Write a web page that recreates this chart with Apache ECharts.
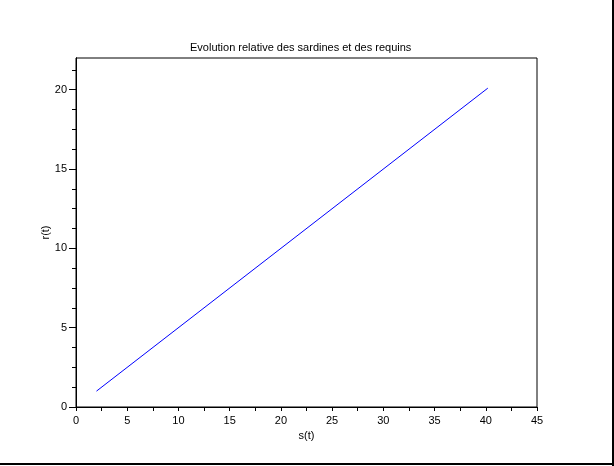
<!DOCTYPE html>
<html>
<head>
<meta charset="utf-8">
<script src="https://cdn.jsdelivr.net/npm/echarts@6/dist/echarts.min.js"></script>
<style>html,body{margin:0;padding:0;background:#fff}#c{width:614px;height:466px}</style>
</head>
<body>
<div id="c"></div>
<script>
const titleText = 'Evolution relative des sardines et des requins';
const xName = 's(t)';
const yName = 'r(t)';
const sValues = [2.0, 40.2];
const rValues = [1.0, 20.1];
const yMajorTicks = [0, 5, 10, 15, 20];
const yMinorTicks = [1.25, 2.5, 3.75, 6.25, 7.5, 8.75, 11.25, 12.5, 13.75, 16.25, 17.5, 18.75, 21.25];

const FONT = 'Liberation Sans';
const chart = echarts.init(document.getElementById('c'), null, {renderer: 'canvas'});
chart.setOption({
  animation: false,
  backgroundColor: '#fff',
  title: {
    text: titleText, left: 185, top: 37,
    textStyle: {fontFamily: FONT, fontSize: 11, fontWeight: 'normal', color: '#000'}
  },
  grid: {left: 76, right: 77, top: 58, bottom: 59, show: true, borderColor: '#000', borderWidth: 1, containLabel: false},
  xAxis: {
    type: 'value', min: 0, max: 45, interval: 5,
    name: xName, nameLocation: 'middle', nameGap: 23, nameMoveOverlap: false,
    nameTextStyle: {fontFamily: FONT, fontSize: 11, color: '#000'},
    axisLine: {show: true, onZero: false, lineStyle: {color: '#000', width: 1}},
    axisTick: {show: true, length: 4, lineStyle: {color: '#000'}},
    minorTick: {show: true, splitNumber: 2, length: 4, lineStyle: {color: '#000'}},
    axisLabel: {fontFamily: FONT, fontSize: 11, color: '#000', margin: 8},
    splitLine: {show: false}
  },
  yAxis: [{
    type: 'value', min: 0, max: 22, position: 'left',
    name: yName, nameLocation: 'middle', nameGap: 25, nameMoveOverlap: false,
    nameTextStyle: {fontFamily: FONT, fontSize: 11, color: '#000'},
    axisLine: {show: true, onZero: false, lineStyle: {color: '#000', width: 1}},
    axisTick: {show: true, length: 7, customValues: yMajorTicks, lineStyle: {color: '#000'}},
    axisLabel: {fontFamily: FONT, fontSize: 11, color: '#000', margin: 9, customValues: yMajorTicks},
    splitLine: {show: false}
  }, {
    type: 'value', min: 0, max: 22, position: 'left', offset: 0,
    axisLine: {show: true, onZero: false, lineStyle: {color: '#000', width: 1}},
    axisTick: {show: true, length: 4, customValues: yMinorTicks, lineStyle: {color: '#000'}},
    axisLabel: {show: false},
    splitLine: {show: false}
  }],
  graphic: [
    {type: 'line', shape: {x1: 613, y1: 0, x2: 613, y2: 466}, style: {stroke: '#000', lineWidth: 2}},
    {type: 'line', shape: {x1: 0, y1: 464, x2: 614, y2: 464}, style: {stroke: '#000', lineWidth: 2}}
  ],
  series: [{
    type: 'line',
    data: sValues.map((s, i) => [s, rValues[i]]),
    showSymbol: false,
    lineStyle: {color: '#0000ff', width: 1},
    itemStyle: {color: '#0000ff'}
  }]
});
</script>
</body>
</html>
